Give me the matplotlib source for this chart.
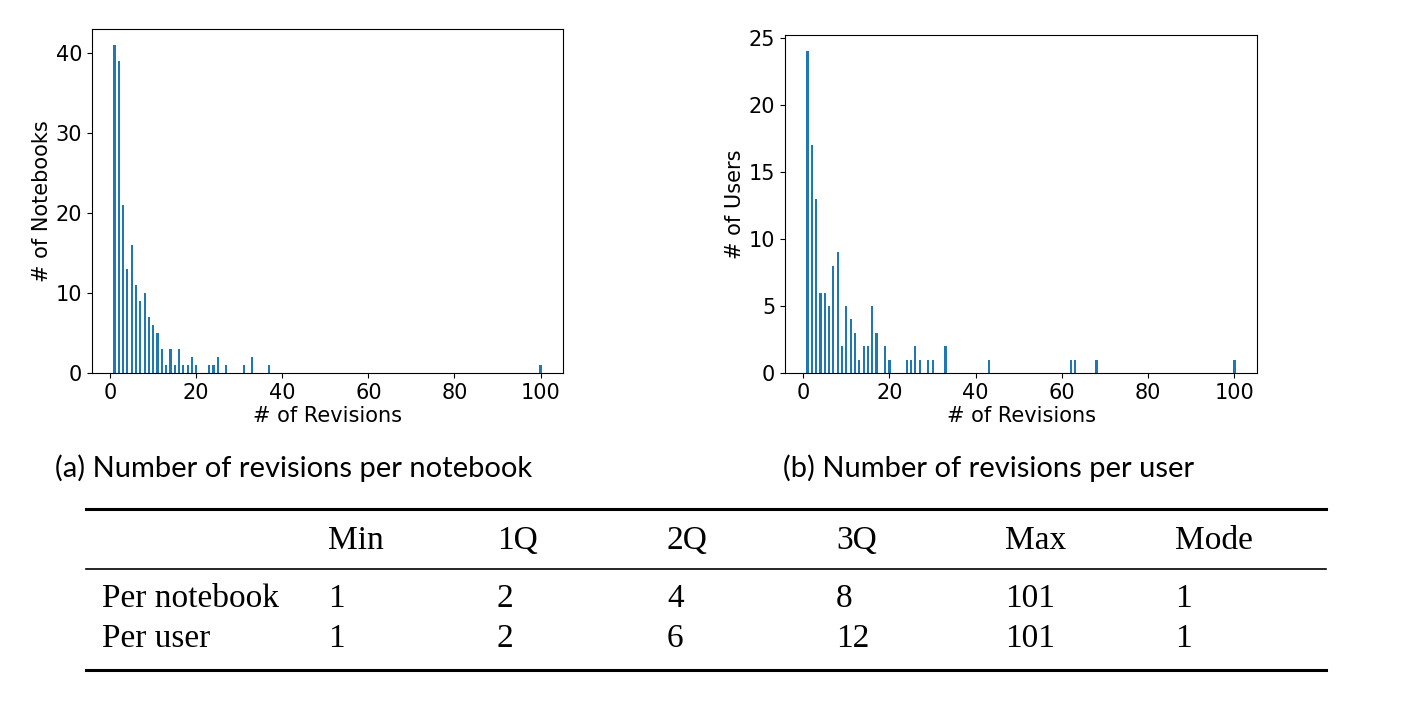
import matplotlib
matplotlib.use("Agg")
import matplotlib.pyplot as plt
from matplotlib.lines import Line2D

# revisions per notebook: (revision count, number of notebooks)
nb_revisions = [1, 2, 3, 4, 5, 6, 7, 8, 9, 10, 11, 12, 13, 14, 15, 16, 17, 18, 19, 20,
                23, 24, 25, 27, 31, 33, 37, 100]
nb_counts = [41, 39, 21, 13, 16, 11, 9, 10, 7, 6, 5, 3, 1, 3, 1, 3, 1, 1, 2, 1,
             1, 1, 2, 1, 1, 2, 1, 1]

# revisions per user: (revision count, number of users)
user_revisions = [1, 2, 3, 4, 5, 6, 7, 8, 9, 10, 11, 12, 13, 14, 15, 16, 17, 19, 20,
                  24, 25, 26, 27, 29, 30, 33, 43, 62, 63, 68, 100]
user_counts = [24, 17, 13, 6, 6, 5, 8, 9, 2, 5, 4, 3, 1, 2, 2, 5, 3, 2, 1,
               1, 1, 2, 1, 1, 1, 2, 1, 1, 1, 1, 1]

captions = ["(a) Number of revisions per notebook", "(b) Number of revisions per user"]

table_header = ["", "Min", "1Q", "2Q", "3Q", "Max", "Mode"]
table_rows = [
    ["Per notebook", "1", "2", "4", "8", "101", "1"],
    ["Per user", "1", "2", "6", "12", "101", "1"],
]

W, H = 1421, 718
fig = plt.figure(figsize=(W / 100, H / 100), dpi=100)


def px_axes(left, top, right, bottom):
    return fig.add_axes([left / W, 1 - bottom / H, (right - left) / W, (bottom - top) / H])


ax_a = px_axes(92, 29, 563, 373)
ax_b = px_axes(785, 35, 1257, 373)

for ax, xs, ys, ylabel in [
    (ax_a, nb_revisions, nb_counts, "# of Notebooks"),
    (ax_b, user_revisions, user_counts, "# of Users"),
]:
    ax.bar(xs, ys, width=0.5, color="#1f77b4")
    ax.set_xlabel("# of Revisions", fontsize=15, labelpad=2)
    ax.set_ylabel(ylabel, fontsize=15, labelpad=3)
    ax.tick_params(labelsize=15)
    ax.set_xticks([0, 20, 40, 60, 80, 100])

ax_a.set_yticks([0, 10, 20, 30, 40])
ax_b.set_yticks([0, 5, 10, 15, 20, 25])

cap_font = ["Lato", "DejaVu Sans"]
fig.text(55 / W, 1 - 468 / H, captions[0], fontsize=21, family=cap_font, va="center")
fig.text(783 / W, 1 - 468 / H, captions[1], fontsize=21, family=cap_font, va="center")

# booktabs-style table
x0, x1 = 86 / W, 1326 / W
for y, lw in [(509, 2.2), (569, 1.2), (670, 2.2)]:
    fig.add_artist(Line2D([x0, x1], [1 - y / H, 1 - y / H], color="black", lw=lw))

col_x = [102, 328, 497, 667, 836, 1005, 1175]
row_y = [541, 599, 639]
tab_font = ["Liberation Serif", "DejaVu Serif"]
for r, row in enumerate([table_header] + table_rows):
    for c, cell in enumerate(row):
        if cell:
            fig.text(col_x[c] / W, 1 - row_y[r] / H, cell, fontsize=24,
                     family=tab_font, va="center", ha="left")

fig.savefig("out.png", dpi=100)
